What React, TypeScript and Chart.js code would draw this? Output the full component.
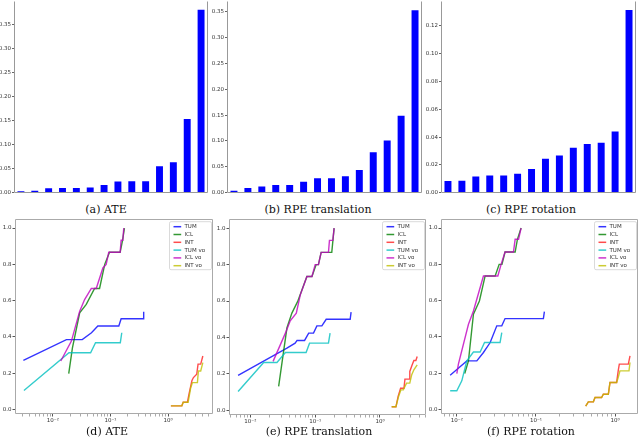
import { useEffect, useRef } from "react"
import { Chart, registerables } from "chart.js"

Chart.register(...registerables)

// --- bar charts: per-sequence error, sorted ---
const barPositions = [0, 1, 2, 3, 4, 5, 6, 7, 8, 9, 10, 11, 12, 13]
const ateBars = [0.003, 0.004, 0.009, 0.01, 0.01, 0.011, 0.016, 0.023, 0.024, 0.024, 0.055, 0.063, 0.153, 0.38]
const rpeTransBars = [0.004, 0.009, 0.012, 0.015, 0.015, 0.021, 0.028, 0.028, 0.032, 0.044, 0.078, 0.101, 0.149, 0.353]
const rpeRotBars = [0.0084, 0.0086, 0.0117, 0.0124, 0.0124, 0.0136, 0.017, 0.0244, 0.0268, 0.0323, 0.0351, 0.0359, 0.044, 0.1315]

const ticks005 = [0, 0.05, 0.1, 0.15, 0.2, 0.25, 0.3, 0.35]
const ticks002 = [0, 0.02, 0.04, 0.06, 0.08, 0.1, 0.12]
const cdfTicks = [0, 0.2, 0.4, 0.6, 0.8, 1.0]
const logTicks = [0.01, 0.1, 1]
const logTickLabels = ["10⁻²", "10⁻¹", "10⁰"]
const minorSteps = [2, 3, 4, 5, 6, 7, 8, 9]

const seriesNames = ["TUM", "ICL", "INT", "TUM vo", "ICL vo", "INT vo"]
const seriesColors = [
  "rgba(0,0,255,0.8)",
  "rgba(0,128,0,0.8)",
  "rgba(255,0,0,0.7)",
  "rgba(0,191,191,0.8)",
  "rgba(191,0,191,0.8)",
  "rgba(191,191,0,0.8)",
]

// --- cumulative curves: [error, fraction of sequences] ---
const ateTum = [[0.00309, 0.27], [0.0172, 0.385], [0.0324, 0.385], [0.0468, 0.423], [0.0603, 0.46], [0.1393, 0.46], [0.1528, 0.5], [0.3715, 0.5], [0.3758, 0.538]]
const ateIcl = [[0.01888, 0.198], [0.02188, 0.34], [0.02924, 0.533], [0.038, 0.579], [0.053, 0.667], [0.0646, 0.667], [0.0794, 0.8], [0.0962, 0.867], [0.1469, 0.867], [0.162, 0.933], [0.1742, 1.0]]
const ateInt = [[1.112, 0.02], [1.722, 0.02], [1.82, 0.04], [2.153, 0.04], [2.291, 0.084], [2.57, 0.158], [2.735, 0.176], [3.119, 0.194], [3.289, 0.25], [3.656, 0.25], [3.981, 0.295]]
const ateTumVo = [[0.00316, 0.105], [0.01905, 0.313], [0.0452, 0.313], [0.055, 0.368], [0.1479, 0.368], [0.1567, 0.423]]
const ateIclVo = [[0.01374, 0.267], [0.021, 0.377], [0.02924, 0.542], [0.0356, 0.606], [0.0465, 0.667], [0.0566, 0.667], [0.0738, 0.78], [0.0841, 0.8], [0.0933, 0.867], [0.1469, 0.867], [0.1528, 0.933], [0.1633, 0.933], [0.1698, 1.0]]
const ateIntVo = [[1.112, 0.02], [1.722, 0.02], [1.82, 0.04], [2.213, 0.04], [2.455, 0.12], [2.63, 0.148], [3.206, 0.148], [3.334, 0.212], [3.656, 0.212], [3.981, 0.258]]

const transTum = [[0.00646, 0.192], [0.0366, 0.342], [0.049, 0.369], [0.0525, 0.384], [0.0686, 0.384], [0.0794, 0.424], [0.0942, 0.424], [0.1062, 0.464], [0.1268, 0.464], [0.1479, 0.5], [0.3467, 0.5], [0.3581, 0.539]]
const transIcl = [[0.0273, 0.132], [0.0366, 0.452], [0.0437, 0.534], [0.0537, 0.598], [0.0745, 0.735], [0.0891, 0.735], [0.1035, 0.8], [0.1122, 0.8], [0.1236, 0.867], [0.1803, 0.867], [0.1959, 1.0]]
const transInt = [[1.514, 0.02], [1.762, 0.02], [1.905, 0.077], [2.08, 0.122], [2.344, 0.122], [2.427, 0.172], [2.818, 0.172], [2.884, 0.214], [3.141, 0.25], [3.334, 0.274], [3.581, 0.274], [3.75, 0.296]]
const transTumVo = [[0.00646, 0.104], [0.01603, 0.263], [0.0257, 0.263], [0.0347, 0.318], [0.0724, 0.318], [0.0818, 0.369], [0.1603, 0.369], [0.1698, 0.424]]
const transIclVo = [[0.0224, 0.269], [0.0347, 0.424], [0.0412, 0.492], [0.0511, 0.534], [0.0589, 0.634], [0.0745, 0.735], [0.0891, 0.735], [0.1, 0.8], [0.1122, 0.8], [0.1236, 0.867], [0.1603, 0.867], [0.166, 0.933], [0.1871, 0.933], [0.1959, 1.0]]
const transIntVo = [[1.514, 0.02], [1.762, 0.02], [1.936, 0.077], [2.104, 0.113], [2.291, 0.113], [2.57, 0.15], [2.884, 0.15], [3.09, 0.196], [3.334, 0.223], [3.75, 0.25]]

const rotTum = [[0.00824, 0.189], [0.01337, 0.268], [0.0179, 0.268], [0.0217, 0.314], [0.0264, 0.369], [0.032, 0.461], [0.037, 0.461], [0.0407, 0.501], [0.1242, 0.501], [0.1279, 0.539]]
const rotIcl = [[0.01259, 0.198], [0.01403, 0.268], [0.01622, 0.525], [0.0193, 0.598], [0.0228, 0.736], [0.0305, 0.736], [0.0343, 0.8], [0.0372, 0.8], [0.0407, 0.868], [0.0546, 0.868], [0.0583, 0.938], [0.0649, 1.0]]
const rotInt = [[0.4256, 0.018], [0.4592, 0.042], [0.5321, 0.042], [0.5585, 0.066], [0.6761, 0.066], [0.7112, 0.084], [0.8222, 0.084], [0.863, 0.149], [1.047, 0.149], [1.096, 0.213], [1.132, 0.25], [1.472, 0.25], [1.545, 0.295]]
const rotTumVo = [[0.00824, 0.103], [0.01, 0.103], [0.01156, 0.158], [0.01337, 0.268], [0.01622, 0.317], [0.01972, 0.317], [0.0224, 0.369], [0.0352, 0.369], [0.037, 0.424]]
const rotIclVo = [[0.01, 0.198], [0.01047, 0.25], [0.01403, 0.47], [0.01622, 0.543], [0.0217, 0.736], [0.033, 0.736], [0.0363, 0.8], [0.0407, 0.868], [0.052, 0.868], [0.0546, 0.938], [0.0603, 0.938], [0.0649, 1.0]]
const rotIntVo = [[0.4256, 0.018], [0.4592, 0.042], [0.5321, 0.042], [0.5585, 0.066], [0.6761, 0.066], [0.7112, 0.084], [0.8222, 0.084], [0.863, 0.149], [1.047, 0.149], [1.096, 0.176], [1.153, 0.213], [1.5, 0.213], [1.545, 0.259]]

const tickFont = { family: "DejaVu Sans", size: 5.5 }

type Area = { l: number; t: number; r: number; b: number }
type Pads = { L: number; T: number; R: number; B: number }

// draws matplotlib-like spines around the chart area
function framePlugin(sides: string, color: string) {
  return {
    id: "frame",
    afterDatasetsDraw(chart: any) {
      const { ctx, chartArea: a } = chart
      const l = Math.round(a.left) + 0.5
      const r = Math.round(a.right) - 0.5
      const t = Math.round(a.top) + 0.5
      const b = Math.round(a.bottom) - 0.5
      ctx.save()
      ctx.strokeStyle = color
      ctx.lineWidth = 1
      ctx.beginPath()
      if (sides.includes("l")) { ctx.moveTo(l, t); ctx.lineTo(l, b) }
      if (sides.includes("r")) { ctx.moveTo(r, t); ctx.lineTo(r, b) }
      if (sides.includes("b")) { ctx.moveTo(l, b); ctx.lineTo(r, b) }
      if (sides.includes("t")) { ctx.moveTo(l, t); ctx.lineTo(r, t) }
      ctx.stroke()
      ctx.restore()
    },
  }
}

// legend box in the upper right corner of the plot
function insideLegend() {
  return {
    id: "insideLegend",
    afterDraw(chart: any) {
      const { ctx, chartArea: a } = chart
      const w = 42
      const h = 48
      const x0 = a.right - 1.5 - w
      const y0 = a.top + 2.7
      ctx.save()
      ctx.fillStyle = "rgba(255,255,255,0.85)"
      ctx.strokeStyle = "#d0d0d0"
      ctx.lineWidth = 0.8
      ctx.beginPath()
      ctx.roundRect(x0, y0, w, h, 1.5)
      ctx.fill()
      ctx.stroke()
      ctx.font = "5.5px 'DejaVu Sans'"
      ctx.textBaseline = "middle"
      chart.data.datasets.forEach((ds: any, i: number) => {
        const y = y0 + 5 + i * 7.8
        ctx.strokeStyle = ds.borderColor
        ctx.lineWidth = 1.5
        ctx.beginPath()
        ctx.moveTo(x0 + 4, y)
        ctx.lineTo(x0 + 11.7, y)
        ctx.stroke()
        ctx.fillStyle = "#333"
        ctx.fillText(ds.label, x0 + 15, y)
      })
      ctx.restore()
    },
  }
}

function barConfig(values: number[], yMax: number, yTicks: number[], p: Pads) {
  return {
    type: "bar",
    data: {
      datasets: [
        {
          data: barPositions.map((x, i) => ({ x, y: values[i] })),
          backgroundColor: "#0000ff",
          borderWidth: 0,
          barPercentage: 0.5,
          categoryPercentage: 1,
        },
      ],
    },
    options: {
      animation: false,
      responsive: false,
      layout: { padding: { left: 0, top: p.T, right: p.R, bottom: 0 } },
      plugins: { legend: { display: false }, tooltip: { enabled: false } },
      scales: {
        x: {
          type: "linear",
          min: -0.5,
          max: 13.5,
          offset: false,
          grid: { display: false, offset: false },
          border: { display: false },
          ticks: { display: false },
          afterFit: (s: any) => { s.height = p.B },
        },
        y: {
          min: 0,
          max: yMax,
          grid: { drawOnChartArea: false, tickLength: 2, tickColor: "#666" },
          border: { display: false },
          ticks: { font: tickFont, color: "#333", padding: 1, callback: (v: any) => Number(v).toFixed(2) },
          afterBuildTicks: (s: any) => { s.ticks = yTicks.map((value) => ({ value })) },
          afterFit: (s: any) => { s.width = p.L },
        },
      },
    },
    plugins: [framePlugin("lrb", "#999")],
  }
}

const isPow10 = (v: number) => Math.abs(Math.log10(v) - Math.round(Math.log10(v))) < 1e-6

function cdfConfig(series: number[][][], xMin: number, xMax: number, p: Pads) {
  return {
    type: "line",
    data: {
      datasets: series.map((pts, i) => ({
        label: seriesNames[i],
        data: pts.map(([x, y]) => ({ x, y })),
        borderColor: seriesColors[i],
        borderWidth: 1.4,
        pointRadius: 0,
        fill: false,
        tension: 0,
        order: 6 - i,
      })),
    },
    options: {
      animation: false,
      responsive: false,
      layout: { padding: { left: 0, top: p.T, right: p.R, bottom: 0 } },
      plugins: { legend: { display: false }, tooltip: { enabled: false } },
      scales: {
        x: {
          type: "logarithmic",
          min: xMin,
          max: xMax,
          grid: {
            drawOnChartArea: false,
            tickLength: 2.5,
            tickColor: (c: any) => (c.tick && isPow10(c.tick.value) ? "#555" : "#aaa"),
          },
          border: { display: false },
          ticks: {
            font: tickFont,
            color: "#333",
            padding: 1,
            autoSkip: false,
            maxRotation: 0,
            minRotation: 0,
            callback: (v: any) => {
              const k = logTicks.findIndex((t) => Math.abs(t - Number(v)) / t < 1e-6)
              return k >= 0 ? logTickLabels[k] : ""
            },
          },
          afterBuildTicks: (s: any) => {
            const out: { value: number }[] = []
            for (let e = -4; e <= 1; e++) {
              const base = Math.pow(10, e)
              for (const m of [1, ...minorSteps]) {
                const v = base * m
                if (v >= xMin && v <= xMax) out.push({ value: v })
              }
            }
            s.ticks = out
          },
          afterFit: (s: any) => { s.height = p.B },
        },
        y: {
          min: -0.025,
          max: 1.05,
          grid: { drawOnChartArea: false, tickLength: 2.5, tickColor: "#555" },
          border: { display: false },
          ticks: { font: tickFont, color: "#333", padding: 1, callback: (v: any) => Number(v).toFixed(1) },
          afterBuildTicks: (s: any) => { s.ticks = cdfTicks.map((value) => ({ value })) },
          afterFit: (s: any) => { s.width = p.L },
        },
      },
    },
    plugins: [framePlugin("lrbt", "#aaa"), insideLegend()],
  }
}

function Plot({ area, pads, config }: { area: Area; pads: Pads; config: any }) {
  const canvasRef = useRef<HTMLCanvasElement>(null)
  const w = area.r - area.l + pads.L + pads.R
  const h = area.b - area.t + pads.T + pads.B

  useEffect(() => {
    if (!canvasRef.current) return
    const chart = new Chart(canvasRef.current, config)
    return () => chart.destroy()
  }, [])

  return (
    <canvas
      ref={canvasRef}
      width={w}
      height={h}
      style={{ position: "absolute", left: area.l - pads.L, top: area.t - pads.T, width: w, height: h }}
    />
  )
}

function Caption({ x, y, text }: { x: number; y: number; text: string }) {
  return (
    <div
      style={{
        position: "absolute",
        left: x - 106,
        top: y - 7,
        width: 212,
        lineHeight: "14px",
        textAlign: "center",
        fontFamily: "'DejaVu Serif', serif",
        fontSize: 11,
        color: "#111",
      }}
    >
      {text}
    </div>
  )
}

const topPadsA = { L: 14, T: 10, R: 4, B: 4 }
const topPads = { L: 18, T: 10, R: 4, B: 4 }
const botPadsD = { L: 15, T: 8, R: 4, B: 14 }
const botPads = { L: 18, T: 8, R: 2, B: 14 }

export default function App() {
  return (
    <div style={{ position: "absolute", left: 0, top: 0, width: 640, height: 444, background: "#fff", overflow: "hidden" }}>
      <Plot area={{ l: 14, t: 1, r: 208, b: 193 }} pads={topPadsA} config={barConfig(ateBars, 0.398, ticks005, topPadsA)} />
      <Plot area={{ l: 227, t: 1, r: 422, b: 193 }} pads={topPads} config={barConfig(rpeTransBars, 0.3707, ticks005, topPads)} />
      <Plot area={{ l: 441, t: 1, r: 636, b: 193 }} pads={topPads} config={barConfig(rpeRotBars, 0.1379, ticks002, topPads)} />
      <Caption x={106} y={210} text="(a) ATE" />
      <Caption x={318} y={210} text="(b) RPE translation" />
      <Caption x={531} y={210} text="(c) RPE rotation" />

      <Plot
        area={{ l: 15, t: 219, r: 213, b: 414 }}
        pads={botPadsD}
        config={cdfConfig([ateTum, ateIcl, ateInt, ateTumVo, ateIclVo, ateIntVo], 0.002213, 5.97, botPadsD)}
      />
      <Plot
        area={{ l: 229, t: 219, r: 426, b: 415 }}
        pads={botPads}
        config={cdfConfig([transTum, transIcl, transInt, transTumVo, transIclVo, transIntVo], 0.004677, 5.129, botPads)}
      />
      <Plot
        area={{ l: 441, t: 219, r: 638, b: 414 }}
        pads={botPads}
        config={cdfConfig([rotTum, rotIcl, rotInt, rotTumVo, rotIclVo, rotIntVo], 0.00631, 1.95, botPads)}
      />
      <Caption x={107} y={432} text="(d) ATE" />
      <Caption x={319} y={432} text="(e) RPE translation" />
      <Caption x={531} y={432} text="(f) RPE rotation" />
    </div>
  )
}
